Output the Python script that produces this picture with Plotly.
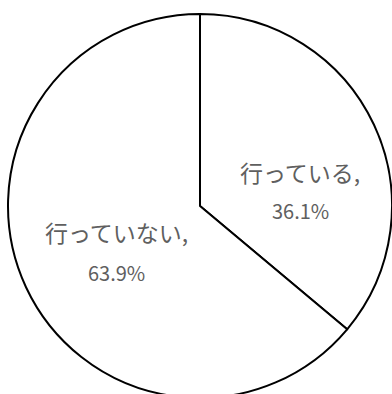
import plotly.graph_objects as go

# Survey result: share of respondents who do / do not do it
labels = ["行っている", "行っていない"]
values = [36.1, 63.9]

W, H = 392, 400
FONT = "Noto Sans CJK JP"
TEXT_COLOR = "#5f5f5f"

fig = go.Figure(
    go.Pie(
        labels=labels,
        values=values,
        sort=False,
        direction="clockwise",
        rotation=0,
        textinfo="none",
        hoverinfo="label+percent",
        marker=dict(colors=["white", "white"], line=dict(color="black", width=2)),
        domain=dict(x=[8 / W, 1.0], y=[2 / H, 386 / H]),
        showlegend=False,
    )
)

# Category labels with their percentages, placed inside each slice
label_pos = [(300, 172, 210), (116, 232, 272)]  # (x, y of name line, y of value line) in px
for lab, val, (px, py1, py2) in zip(labels, values, label_pos):
    fig.add_annotation(
        x=px / W, y=(H - py1) / H, xref="paper", yref="paper",
        text=f"{lab},", showarrow=False,
        font=dict(family=FONT, size=23, color=TEXT_COLOR),
        xanchor="center", yanchor="middle",
    )
    fig.add_annotation(
        x=px / W, y=(H - py2) / H, xref="paper", yref="paper",
        text=f"{val:.1f}%", showarrow=False,
        font=dict(family=FONT, size=20, color=TEXT_COLOR),
        xanchor="center", yanchor="middle",
    )

fig.update_layout(
    width=W,
    height=H,
    margin=dict(l=0, r=0, t=0, b=0),
    paper_bgcolor="white",
    plot_bgcolor="white",
)

fig.write_html(
    "out.html",
    post_script="document.body.style.margin='0';document.body.style.overflow='hidden';",
)
